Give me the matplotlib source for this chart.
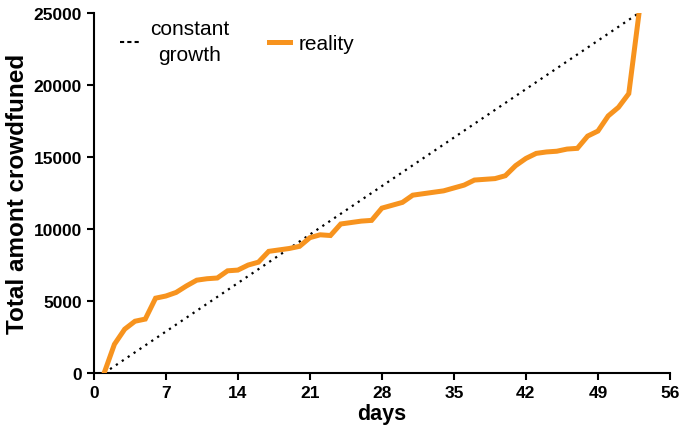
import matplotlib
matplotlib.use("Agg")
import matplotlib.pyplot as plt
from matplotlib.lines import Line2D

plt.rcParams['font.family'] = ['Liberation Sans', 'DejaVu Sans']

days = list(range(1, 54))
reality = [0, 2000, 3050, 3600, 3750, 5200, 5350, 5600, 6050, 6450,
           6550, 6600, 7100, 7150, 7500, 7700, 8450, 8550, 8650, 8800,
           9400, 9600, 9550, 10350, 10450, 10550, 10600, 11450, 11650, 11850,
           12350, 12450, 12550, 12650, 12850, 13050, 13400, 13450, 13500, 13700,
           14400, 14900, 15250, 15350, 15400, 15550, 15600, 16450, 16800, 17850,
           18450, 19400, 25000]
constant_days = [1, 53]
constant_vals = [0, 25000]
xticks = [0, 7, 14, 21, 28, 35, 42, 49, 56]
yticks = [0, 5000, 10000, 15000, 20000, 25000]

orange = '#F7931E'

fig = plt.figure(figsize=(6.85, 4.35), dpi=100)
ax = fig.add_axes([0.137, 0.140, 0.841, 0.828])

ax.plot(constant_days, constant_vals, color='black', linestyle=(0, (1, 2.2)),
        linewidth=1.6, zorder=2)
ax.plot(days, reality, color=orange, linewidth=3.6, solid_joinstyle='miter',
        zorder=3)

ax.set_xlim(0, 56)
ax.set_ylim(0, 25000)
ax.set_xticks(xticks)
ax.set_yticks(yticks)
for s in ['top', 'right']:
    ax.spines[s].set_visible(False)
for s in ['left', 'bottom']:
    ax.spines[s].set_linewidth(1.5)
ax.tick_params(direction='out', length=5, width=1.5, labelsize=12.5)
for lab in ax.get_xticklabels() + ax.get_yticklabels():
    lab.set_fontweight('bold')

ax.set_xlabel('days', fontsize=15.5, fontweight='bold', labelpad=2)
ax.set_ylabel('Total amont crowdfuned', fontsize=17.5, fontweight='bold', labelpad=3)

handles = [Line2D([], [], color='black', linestyle=(0, (2, 1.5)), linewidth=1.5),
           Line2D([], [], color=orange, linewidth=3.6)]
leg = ax.legend(handles, ['constant\ngrowth', 'reality'], ncol=2, frameon=False,
                loc='upper left', bbox_to_anchor=(0.012, 1.035), fontsize=15,
                handlelength=1.05, handletextpad=0.4, columnspacing=1.9,
                labelspacing=0.2)
for t in leg.get_texts():
    t.set_multialignment('center')
    t.set_linespacing(1.45)

fig.savefig('out.png', dpi=100)
